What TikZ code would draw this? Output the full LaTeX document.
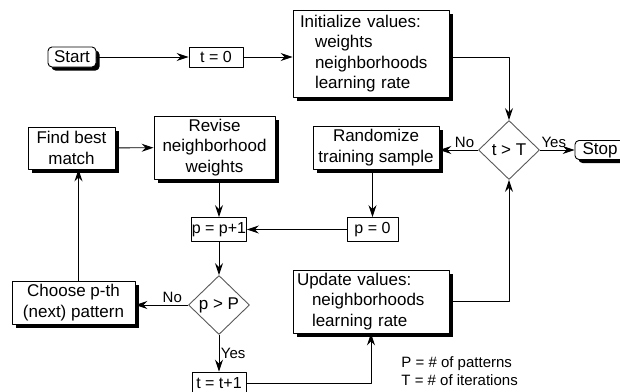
\documentclass[tikz,border=0pt]{standalone}
\usepackage{fontspec}
\setmainfont{Liberation Sans}
\usetikzlibrary{arrows.meta,shapes.geometric,shadows}
\tikzset{
  shadowed/.style={general shadow={fill=black,shadow xshift=3.5pt,shadow yshift=-3.5pt}},
  procbox/.style={draw,fill=white,shadowed,inner sep=0pt,align=center},
  termbox/.style={procbox,rounded corners=4pt},
  valbox/.style={draw,fill=white,inner sep=0pt,font=\fontsize{16}{18}\selectfont},
  decision/.style={diamond,draw=gray!70!black,fill=white,inner sep=0pt,
    minimum width=61pt,minimum height=59pt},
  lbl/.style={font=\fontsize{15}{17}\selectfont,inner sep=1.5pt},
  legend/.style={font=\fontsize{15}{18}\selectfont,align=left,inner sep=0pt},
  flow/.style={-{Stealth[length=12pt,width=8pt,inset=4pt]}},
}
\begin{document}
\begin{tikzpicture}[x=1pt,y=-1pt,font=\fontsize{17}{20.3}\selectfont,line join=round,
  line width=0.9pt]
\useasboundingbox (0,0) rectangle (620,391);
% top row
\node[termbox,minimum width=48pt,minimum height=20pt] (start) at (72,57) {Start};
\node[valbox,minimum width=54pt,minimum height=20pt] (t0) at (216,57) {t = 0};
\node[procbox,align=left,text width=142pt,inner xsep=7pt,minimum height=87pt] (init) at (371,53.5)
  {Initialize values:\\\hspace*{15pt}weights\\\hspace*{15pt}neighborhoods\\\hspace*{15pt}learning rate};
% middle row
\node[procbox,minimum width=87pt,minimum height=42pt] (find) at (71.5,148) {Find best\\match};
\node[procbox,minimum width=121pt,minimum height=63pt] (revise) at (214.5,147.5) {Revise\\neighborhood\\weights};
\node[procbox,minimum width=126pt,minimum height=43pt] (rand) at (376,147.5) {Randomize\\training sample};
\node[decision] (tT) at (509,150) {t > T};
\node[termbox,minimum width=50pt,minimum height=19pt] (stop) at (600,150) {Stop};
\node[valbox,minimum width=55pt,minimum height=24pt] (pp1) at (219,229.5) {p = p+1};
\node[valbox,minimum width=51pt,minimum height=24pt] (p0) at (372.5,229.5) {p = 0};
% bottom row
\node[procbox,minimum width=123pt,minimum height=43pt] (choose) at (73.5,302.5) {Choose p-th\\(next) pattern};
\node[decision] (pP) at (219,305) {p > P};
\node[procbox,align=left,text width=148pt,inner xsep=4pt,minimum height=63pt] (update) at (371,301.5)
  {Update values:\\\hspace*{15pt}neighborhoods\\\hspace*{15pt}learning rate};
\node[valbox,minimum width=54pt,minimum height=22pt] (tt1) at (219,383) {t = t+1};
\node[legend,anchor=west] (note) at (401,371) {P = \# of patterns\\T = \# of iterations};
% connectors
\draw[flow] (start) -- (t0);
\draw[flow] (t0.east) -- (t0.east -| init.west);
\draw[flow] ([yshift=-4pt]init.east) -| (tT.north);
\draw[flow] (tT.east) -- node[lbl,above,pos=0.4]{Yes} (stop.west);
\draw[flow] (tT.west) -- node[lbl,above,pos=0.35]{No} (tT.west -| rand.east);
\draw[flow] (rand.south -| p0.north) -- (p0.north);
\draw[flow] (p0.west) -- (p0.west -| pp1.east);
\draw[flow] (revise.south -| pp1.north) -- (pp1.north);
\draw[flow] (pp1) -- (pP);
\draw[flow] (pP.west) -- node[lbl,above,pos=0.3]{No} (pP.west -| choose.east);
\draw[flow] (pP.south) -- node[lbl,right]{Yes} (tt1.north);
\draw[flow] (tt1.east) -| (update.south);
\draw[flow] (update.east) -| (tT.south);
\draw[flow] ([xshift=5pt]choose.north) -- ([xshift=5pt]choose.north |- find.south);
\draw[flow] (find) -- (revise);
\end{tikzpicture}
\end{document}
